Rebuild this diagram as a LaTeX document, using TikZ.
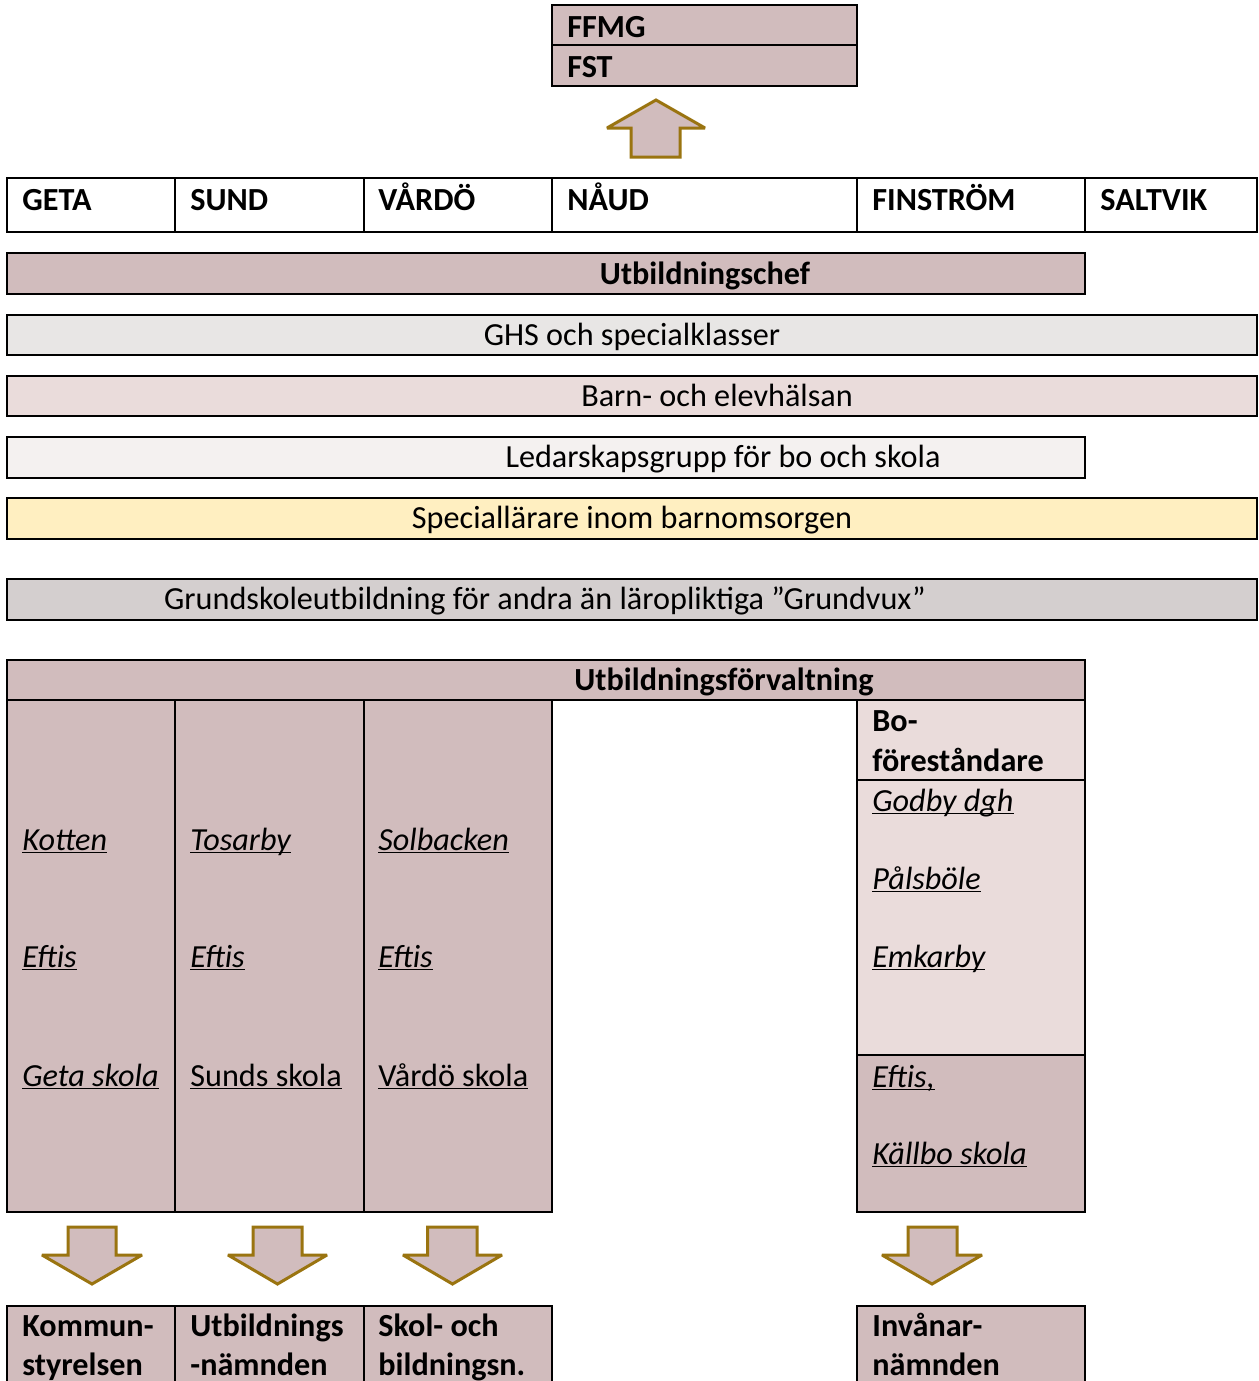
\documentclass[tikz,border=0pt]{standalone}
\usepackage{fontspec}
\setmainfont{Carlito}
\definecolor{rose}{HTML}{D1BCBD}
\definecolor{roselight}{HTML}{EADCDB}
\definecolor{ghsc}{HTML}{E8E6E5}
\definecolor{ledarc}{HTML}{F4F1F0}
\definecolor{yelc}{HTML}{FFEFC1}
\definecolor{gvuxc}{HTML}{D4CFCF}
\definecolor{arrowc}{HTML}{9A7410}
\newcommand\myul[1]{\underline{\smash{#1}}}
\begin{document}
\begin{tikzpicture}[x=0.5pt,y=-0.5pt,
  box/.style={draw=black,line width=1pt},
  lbl/.style={inner sep=0pt,font=\fontsize{16.1}{18}\selectfont},
  blbl/.style={inner sep=0pt,font=\fontsize{16.1}{18}\selectfont\bfseries},
  ilbl/.style={inner sep=0pt,font=\fontsize{16.1}{18}\selectfont\itshape},
  blockarrow/.style={draw=arrowc,fill=rose,line width=1.5pt,line join=miter,miter limit=2}]
\useasboundingbox (0,0) rectangle (1258,1381);
\clip (0,0) rectangle (1258,1381);

% top box
\path[box,fill=rose] (552,5) rectangle (857,45);
\path[box,fill=rose] (552,45) rectangle (857,86);
\node[blbl,anchor=base west] (ffmg) at (567,37) {FFMG};
\node[blbl,anchor=base west] (fst) at (567,77) {FST};

% up arrow
\path[blockarrow] (656,100) -- (705,128) -- (680,128) -- (680,157) -- (631,157) -- (631,128) -- (607,128) -- cycle;

% municipalities row
\path[box] (7,178) rectangle (1257,232);
\foreach \xx in {175,364,552,857,1085} \draw[line width=1pt] (\xx,178) -- (\xx,232);
\node[blbl,anchor=base west] (geta) at (22,210) {GETA};
\node[blbl,anchor=base west] (sund) at (190,210) {SUND};
\node[blbl,anchor=base west] (vardo) at (378,210) {VÅRDÖ};
\node[blbl,anchor=base west] (naud) at (567,210) {NÅUD};
\node[blbl,anchor=base west] (finstrom) at (872,210) {FINSTRÖM};
\node[blbl,anchor=base west] (saltvik) at (1100,210) {SALTVIK};

% bars
\path[box,fill=rose] (7,253) rectangle (1085,294);
\node[blbl,anchor=base] (chef) at (705,284) {Utbildningschef};
\path[box,fill=ghsc] (7,315) rectangle (1257,355);
\node[lbl,anchor=base] (ghs) at (632,345) {GHS och specialklasser};
\path[box,fill=roselight] (7,376) rectangle (1257,416);
\node[lbl,anchor=base] (barn) at (717,406) {Barn- och elevhälsan};
\path[box,fill=ledarc] (7,437) rectangle (1085,478);
\node[lbl,anchor=base] (ledar) at (723,467) {Ledarskapsgrupp för bo och skola};
\path[box,fill=yelc] (7,498) rectangle (1257,539);
\node[lbl,anchor=base] (spec) at (632,528) {Speciallärare inom barnomsorgen};
\path[box,fill=gvuxc] (7,579) rectangle (1257,620);
\node[lbl,anchor=base] (gvux) at (545,609) {Grundskoleutbildning för andra än läropliktiga ”Grundvux”};

% Utbildningsförvaltning
\path[box,fill=rose] (7,660) rectangle (1085,700);
\node[blbl,anchor=base] (forv) at (724,690) {Utbildningsförvaltning};
\path[box,fill=rose] (7,700) rectangle (175,1212);
\path[box,fill=rose] (175,700) rectangle (364,1212);
\path[box,fill=rose] (364,700) rectangle (552,1212);
\path[box,fill=roselight] (857,700) rectangle (1085,780);
\path[box,fill=roselight] (857,780) rectangle (1085,1055);
\path[box,fill=rose] (857,1055) rectangle (1085,1212);

\node[ilbl,anchor=base west] (kotten) at (22,850) {\myul{Kotten}};
\node[ilbl,anchor=base west] (eftis1) at (22,967) {\myul{Eftis}};
\node[ilbl,anchor=base west] (getaskola) at (22,1086) {\myul{Geta skola}};
\node[ilbl,anchor=base west] (tosarby) at (190,850) {\myul{Tosarby}};
\node[ilbl,anchor=base west] (eftis2) at (190,967) {\myul{Eftis}};
\node[lbl,anchor=base west] (sunds) at (190,1086) {\myul{Sunds skola}};
\node[ilbl,anchor=base west] (solbacken) at (378,850) {\myul{Solbacken}};
\node[ilbl,anchor=base west] (eftis3) at (378,967) {\myul{Eftis}};
\node[lbl,anchor=base west] (vardoskola) at (378,1086) {\myul{Vårdö skola}};

\node[blbl,anchor=base west] (bo) at (872,731) {Bo-};
\node[blbl,anchor=base west] (forest) at (872,771) {föreståndare};
\node[ilbl,anchor=base west] (godby) at (872,811) {\myul{Godby dgh}};
\node[ilbl,anchor=base west] (palsbole) at (872,889) {\myul{Pålsböle}};
\node[ilbl,anchor=base west] (emkarby) at (872,967) {\myul{Emkarby}};
\node[ilbl,anchor=base west] (eftis4) at (872,1087) {\myul{Eftis,}};
\node[ilbl,anchor=base west] (kallbo) at (872,1164) {\myul{Källbo skola}};

% down arrows
\foreach \sl/\sr/\hl/\hr/\tx in {68/116/42/142/92, 253/302/228/327/277.5, 427.5/477/403/502/452.5, 908/957/882/982/932}
  \path[blockarrow] (\sl,1227) -- (\sr,1227) -- (\sr,1255) -- (\hr,1255) -- (\tx,1284) -- (\hl,1255) -- (\sl,1255) -- cycle;

% bottom boxes
\path[box,fill=rose] (7,1306) rectangle (175,1400);
\path[box,fill=rose] (175,1306) rectangle (364,1400);
\path[box,fill=rose] (364,1306) rectangle (552,1400);
\path[box,fill=rose] (857,1306) rectangle (1085,1400);
\node[blbl,anchor=base west] (ks1) at (22,1336) {Kommun-};
\node[blbl,anchor=base west] (ks2) at (22,1375) {styrelsen};
\node[blbl,anchor=base west] (un1) at (190,1336) {Utbildnings};
\node[blbl,anchor=base west] (un2) at (190,1375) {-nämnden};
\node[blbl,anchor=base west] (sb1) at (378,1336) {Skol- och};
\node[blbl,anchor=base west] (sb2) at (378,1375) {bildningsn.};
\node[blbl,anchor=base west] (in1) at (872,1336) {Invånar-};
\node[blbl,anchor=base west] (in2) at (872,1375) {nämnden};
\end{tikzpicture}
\end{document}
